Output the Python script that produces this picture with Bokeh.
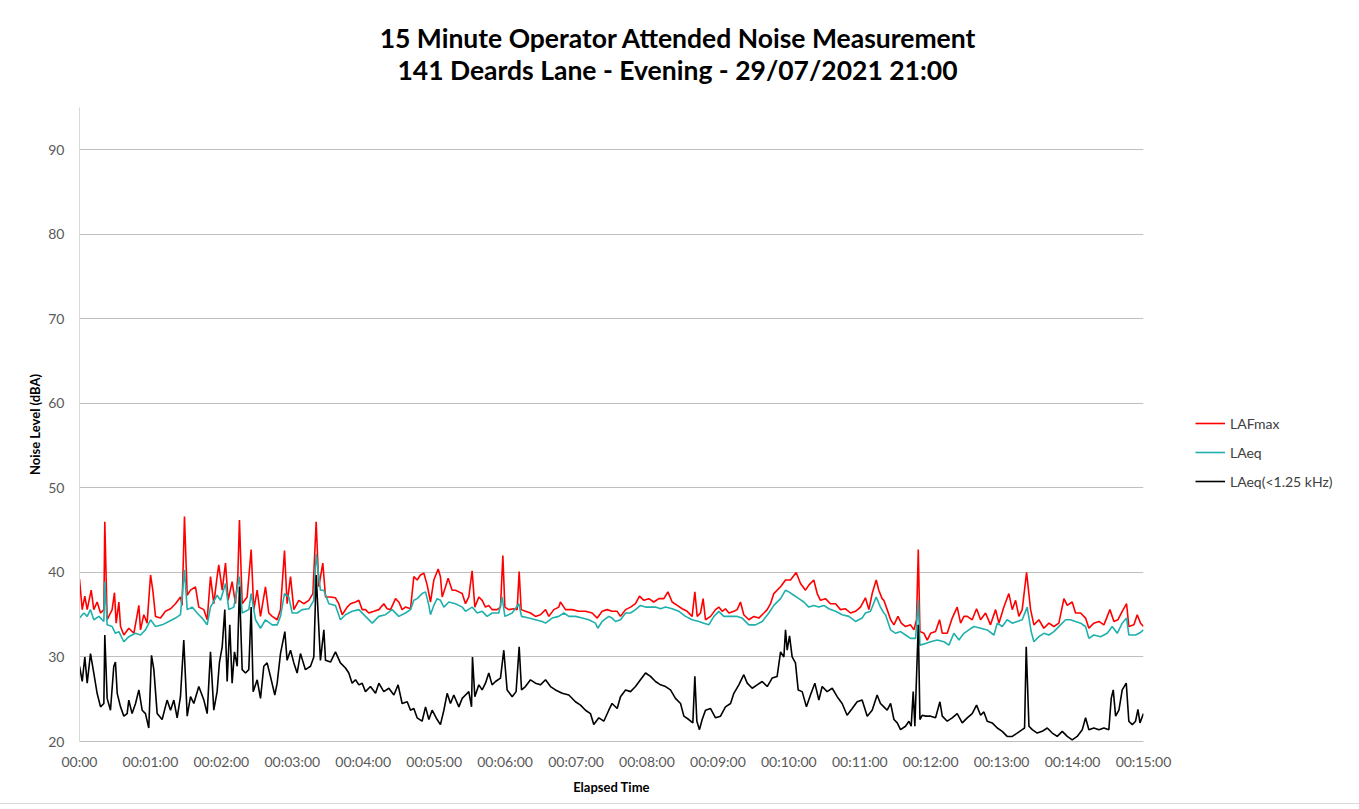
from bokeh.plotting import figure
from bokeh.models import Legend, LegendItem, FixedTicker, Div
from bokeh.layouts import column
from bokeh.embed import file_html
from bokeh.resources import INLINE

# ---- data (elapsed seconds, dBA) ----
lafmax_pts = [(0,39.2),(2.3,35.6),(4.5,37.2),(6.5,35.6),(9.9,37.9),(12.1,35.6),(14.9,36.5),(17.8,35.2),(20.6,35.6),(21.4,46.0),(23.4,34.4),(27.6,35.6),(29.6,37.6),(31.0,34.0),(33.3,36.5),(34.7,33.6),(37.5,32.6),(41.7,33.4),(46.0,32.8),(50.2,36.1),(51.6,33.2),(54.4,35.0),(57.2,34.0),(60.1,39.7),(62.0,37.9),(64.3,34.8),(68.5,34.6),(72.7,35.4),(77.0,35.7),(81.2,36.3),(85.4,37.1),(86.8,36.1),(88.8,46.6),(91.1,37.3),(93.9,37.9),(98.1,38.3),(100.9,35.9),(105.2,35.6),(108.0,34.4),(110.8,39.5),(113.6,36.3),(116.4,39.5),(117.8,40.9),(120.7,37.9),(123.5,41.1),(125.7,36.7),(129.1,38.9),(131.9,36.3),(133.9,39.5),(135.3,46.2),(137.6,36.3),(141.8,37.1),(145.2,42.7),(147.4,35.6),(150.3,37.9),(153.1,34.8),(157.3,38.3),(160.1,35.2),(163.0,34.8),(167.2,34.4),(170.0,35.6),(173.4,42.6),(175.6,36.3),(178.5,39.5),(181.3,35.6),(185.5,36.7),(189.7,36.3),(194.0,36.7),(197.4,37.5),(200.2,46.0),(202.4,38.3),(205.8,41.1),(208.1,37.1),(212.3,37.1),(216.5,37.0),(219.3,36.3),(222.2,35.0),(226.4,35.9),(229.2,36.3),
(233.5,36.5),(236.3,36.7),(239.1,35.6),(241.9,35.6),(244.7,35.2),(249.0,35.4),(253.2,35.6),(257.4,36.3),(260.2,35.7),(263.1,35.6),(267.3,36.9),(270.1,36.5),(272.9,35.6),(275.7,35.9),(280.0,35.7),(282.8,39.5),(285.6,39.1),(288.4,39.7),(291.3,39.9),(294.1,38.5),(296.9,36.5),(299.7,39.1),(303.4,40.4),(305.3,39.5),(306.8,37.1),(309.6,38.3),(311.8,39.3),(315.2,37.9),(318.0,37.9),(320.9,37.7),(323.7,37.5),(326.5,36.3),(329.3,37.1),(332.1,40.2),(334.4,35.9),(337.8,37.1),(340.6,36.7),(343.4,35.9),(346.2,36.1),(349.0,35.6),(353.3,35.6),(356.1,35.9),(358.1,42.0),(359.8,35.9),(363.1,35.6),(367.4,35.7),(370.2,35.6),(371.9,40.1),(373.6,35.6),(377.2,35.4),(381.5,35.2),(385.7,34.8),(389.9,35.0),(394.2,35.6),(397.0,34.8),(401.2,35.6),(405.4,35.9),(406.8,36.5),(411.1,35.6),(416.7,35.6),(422.4,35.4),(428.0,35.4),(433.6,35.2),(437.9,34.6),(442.1,35.4),(446.3,35.6),(450.5,35.4),(454.8,35.4),
(457.6,34.8),(461.9,35.6),(466.1,35.9),(470.3,36.3),(473.7,37.2),(477.4,36.7),(481.6,36.9),(485.8,36.5),(490.1,36.9),(494.3,36.9),(497.7,37.7),(501.3,36.5),(505.6,36.1),(509.8,35.7),(514.0,35.4),(518.2,34.8),(520.5,37.7),(522.5,34.8),(525.3,35.2),(527.5,36.9),(529.5,34.4),(533.8,34.8),(538.0,35.6),(540.8,35.9),(543.6,35.4),(546.4,35.7),(549.3,35.2),(553.5,35.4),(556.3,35.6),(559.1,36.5),(561.9,35.0),(566.2,34.4),(570.4,34.8),(574.6,34.6),(578.9,35.2),(581.7,35.6),(584.5,36.3),(587.3,37.5),(590.1,37.9),(593.0,38.3),(597.2,39.1),(601.4,39.1),(606.2,40.0),(609.9,38.7),(614.1,37.9),(616.9,38.5),(621.1,39.1),(624.0,37.5),(626.8,36.7),(631.0,36.9),(635.2,36.3),(639.5,36.3),(643.7,35.6),(647.9,35.7),(652.2,35.2),(656.4,35.4),(660.6,35.9),(664.8,37.0),(667.7,35.6),(670.5,37.5),(673.9,39.1),(676.1,37.9),(678.9,36.9),
(680.4,36.7),(683.2,35.6),(686.1,34.4),(688.9,33.8),(692.3,34.8),(695.1,34.0),(698.7,33.6),(703.0,33.8),(705.8,33.2),(708.0,34.4),(709.5,42.7),(710.9,33.0),(714.3,32.8),(717.1,32.0),(719.9,32.8),(724.1,33.0),(727.5,34.4),(729.8,32.8),(734.0,32.8),(738.2,34.6),(742.4,35.9),(745.3,34.0),(748.1,34.8),(750.9,34.8),(755.1,34.4),(758.8,35.7),(762.2,34.4),(766.4,35.2),(770.6,33.8),(774.9,35.6),(777.7,34.0),(781.9,35.9),(786.1,37.5),(789.0,35.6),(791.8,36.7),(794.6,34.8),(797.4,35.6),(801.1,40.0),(804.5,35.6),(807.3,33.8),(811.5,34.4),(815.7,33.4),(820.0,34.0),(824.2,33.6),(828.4,34.0),(832.7,36.9),(835.5,36.1),(839.7,36.5),(842.5,35.2),(846.8,35.2),(851.0,34.6),(853.8,33.4),(858.0,34.0),(862.3,34.2),(866.5,33.8),(871.6,35.6),(875.0,34.2),(878.3,34.4),(882.0,35.4),(885.7,36.3),(887.6,33.6),(891.9,33.8),(894.7,35.0),(897.5,34.0),(900.0,33.6)]

laeq_pts = [(0,34.6),(3.7,35.2),(6.5,34.8),(9.3,35.6),(12.1,34.4),(16.4,34.8),(20.6,34.2),(21.4,38.9),(23.4,33.8),(27.6,33.6),(30.4,32.8),(33.3,33.0),(37.5,31.8),(41.7,32.4),(47.4,32.8),(51.6,32.6),(55.8,33.2),(60.1,34.4),(64.3,33.6),(69.9,33.8),(75.6,34.2),(81.2,34.6),(85.4,35.0),(88.8,40.3),(91.1,35.6),(95.3,35.9),(99.5,35.2),(103.7,34.6),(108.0,33.8),(110.8,35.9),(116.4,37.3),(119.3,36.7),(123.5,38.7),(126.3,35.6),(130.5,35.9),(135.3,39.5),(137.6,35.2),(143.2,35.6),(145.2,37.5),(148.9,34.4),(153.1,33.4),(157.3,34.4),(163.0,33.8),(167.2,33.8),(170.0,34.8),(173.4,37.5),(177.0,37.1),(179.9,35.2),(184.1,35.2),(188.3,35.6),(194.0,35.7),(198.2,36.7),(200.2,42.2),(203.8,37.9),(206.7,37.9),(210.9,36.3),(216.5,36.1),(220.7,34.4),(225.0,35.0),
(230.6,35.4),(236.3,35.6),(241.9,34.8),(247.6,34.0),(253.2,34.8),(258.8,35.0),(264.5,35.6),(270.1,34.8),(275.7,35.2),(280.0,35.6),(282.8,36.7),(285.6,36.9),(289.8,37.5),(292.7,37.7),(295.5,36.1),(296.9,35.0),(299.7,36.1),(302.5,36.9),(305.3,36.7),(308.2,35.9),(312.4,36.5),(318.0,36.3),(323.7,35.9),(326.5,35.4),(332.1,35.9),(336.4,35.2),(340.6,35.4),(344.8,34.8),(349.0,35.2),(354.7,35.2),(357.5,37.1),(359.8,34.8),(366.0,35.2),(371.6,36.3),(373.9,34.8),(380.1,34.6),(385.7,34.4),(391.3,34.2),(394.2,34.0),(399.8,34.6),(405.4,34.8),(409.7,35.2),(413.9,34.8),(419.5,34.8),(425.2,34.6),(430.8,34.4),(436.4,34.0),(438.4,33.4),(442.1,34.2),(447.7,34.8),(450.5,34.6),
(453.4,34.2),(457.6,34.4),(461.9,35.2),(466.1,35.2),(470.3,35.6),(474.5,36.1),(478.8,35.9),(483.0,35.9),(487.2,35.9),(491.5,35.7),(495.7,35.9),(501.3,35.7),(507.0,35.4),(512.6,34.8),(518.2,34.4),(523.9,34.2),(528.1,34.0),(532.3,33.8),(536.6,34.8),(540.8,35.4),(545.0,34.8),(550.7,34.8),(556.3,34.8),(560.5,34.6),(566.2,33.8),(571.8,33.8),(577.5,34.2),(583.1,35.2),(587.3,36.1),(593.0,36.9),(597.2,37.9),(600.0,37.7),(604.2,37.3),(608.5,36.9),(612.7,36.5),(616.9,35.9),(621.1,36.1),(625.4,35.9),(629.6,36.1),(633.8,35.7),(639.5,35.4),(645.1,35.0),(650.8,34.8),(656.4,34.2),(662.0,34.6),(664.8,35.2),(669.1,35.4),(673.9,37.1),(677.5,35.9),
(680.4,35.2),(681.8,35.0),(686.1,33.2),(690.3,32.8),(694.5,33.0),(698.7,32.6),(703.0,32.2),(707.2,32.2),(709.5,36.7),(710.9,31.4),(715.7,31.6),(719.9,31.8),(725.5,32.0),(731.2,31.8),(735.4,31.4),(739.6,32.8),(743.9,32.0),(748.1,32.8),(752.3,33.2),(756.5,33.6),(762.2,33.4),(767.8,33.2),(773.5,32.6),(776.3,34.0),(780.5,33.6),(784.7,34.4),(789.0,34.0),(793.2,34.2),(797.4,34.4),(801.6,35.9),(805.0,33.0),(807.3,31.8),(811.5,32.4),(815.7,32.8),(820.0,32.6),(824.2,33.0),(829.8,33.8),(834.1,34.4),(838.3,34.4),(842.5,34.2),(846.8,34.0),(851.0,33.6),(853.8,32.2),(858.0,32.6),(863.7,32.4),(869.3,32.8),(873.5,33.6),(877.8,32.8),(882.0,34.0),(885.7,34.6),(887.6,32.6),(893.3,32.6),(897.5,32.9),(900.0,33.2)]

laeq_low_pts = [(0,28.9),(2.3,27.1),(4.5,30.0),(6.5,26.9),(9.3,30.4),(12.1,28.1),(14.9,25.7),(17.8,24.1),(20.6,24.5),(21.4,32.6),(23.4,25.1),(26.2,23.7),(29.0,28.9),(30.4,29.4),(31.9,25.7),(34.7,24.1),(37.5,23.0),(40.3,23.3),(41.7,24.9),(44.5,23.3),(47.4,24.5),(50.2,26.1),(53.0,23.7),(55.8,23.3),(58.6,21.6),(60.9,30.2),(62.9,28.5),(65.7,23.3),(69.9,22.6),(74.1,24.9),(77.0,23.7),(79.8,24.9),(82.6,22.8),(85.4,25.3),(88.2,32.0),(91.1,23.0),(93.9,25.3),(96.7,24.5),(100.9,26.5),(105.2,24.9),(108.0,23.3),(110.8,30.6),(113.6,23.7),(116.4,25.9),(118.4,29.4),(120.7,31.2),(122.9,35.6),(124.9,27.1),(127.1,33.8),(129.1,26.9),(131.1,30.6),(133.4,28.9),(135.3,38.3),(137.6,28.5),(140.4,28.1),(143.2,28.5),(145.2,35.9),(146.9,25.9),(150.3,27.3),(153.1,25.1),(155.9,28.9),(158.7,29.3),(161.5,27.7),(165.2,25.5),(167.2,26.9),(170.0,30.4),(173.7,33.0),(175.6,29.6),(178.5,30.8),(181.3,29.3),(184.1,28.1),(186.9,30.4),(191.1,28.5),(195.4,28.9),(198.2,30.0),(200.2,39.7),(203.8,29.6),(206.7,33.2),(208.1,29.6),(212.3,29.4),(216.5,30.6),(220.7,29.3),(225.0,28.7),
(227.8,28.1),(230.6,26.9),(233.5,27.3),(236.3,26.7),(239.1,26.9),(241.9,25.9),(246.1,26.5),(250.4,25.7),(253.2,26.9),(257.4,25.9),(261.7,26.3),(265.9,25.5),(269.5,26.7),(272.9,24.5),(277.2,24.7),(280.0,23.7),(282.8,23.9),(285.6,22.8),(289.8,22.4),(292.7,24.1),(295.5,22.6),(298.3,23.7),(302.5,22.6),(305.3,22.0),(308.2,23.7),(311.0,25.7),(313.8,24.5),(316.6,25.5),(320.9,24.1),(323.7,25.1),(326.5,25.5),(329.3,25.9),(331.6,24.1),(332.4,30.0),(334.4,25.3),(337.8,26.7),(340.6,26.1),(343.4,26.9),(346.2,28.1),(349.0,26.7),(351.9,27.1),(356.1,27.5),(358.9,30.8),(361.7,26.1),(366.0,25.3),(369.3,25.9),(371.9,31.2),(373.9,26.1),(377.2,26.5),(381.5,27.3),(385.7,26.9),(389.9,26.7),(394.2,27.3),(398.4,26.5),(402.6,26.1),(408.3,25.7),(413.9,25.5),(419.5,24.7),(423.8,24.3),(428.0,23.7),(432.2,23.3),(435.0,22.0),(439.3,22.8),(443.5,22.4),(447.7,23.7),(450.5,24.5),(454.8,23.9),
(457.6,25.3),(461.9,26.1),(466.1,25.9),(470.3,26.5),(474.5,27.3),(478.8,28.1),(483.0,27.7),(487.2,27.1),(491.5,26.7),(495.7,26.5),(499.9,26.1),(504.1,25.1),(508.4,24.5),(511.2,23.0),(515.4,22.6),(518.8,22.2),(520.5,27.7),(522.2,22.4),(524.4,21.4),(526.7,22.6),(529.5,23.7),(533.8,23.9),(538.0,22.8),(542.2,23.0),(546.4,24.1),(550.7,24.5),(553.5,25.7),(557.7,26.7),(561.9,27.9),(564.8,26.9),(569.0,26.3),(573.2,26.7),(577.5,27.1),(581.7,26.5),(585.9,27.5),(590.1,27.7),(593.0,30.6),(595.8,30.0),(597.2,33.2),(598.6,30.8),(600.6,32.5),(602.8,30.0),(605.6,29.3),(607.9,26.1),(611.3,25.9),(614.9,24.1),(618.3,25.5),(622.0,26.9),(625.4,24.9),(628.2,26.5),(632.4,25.9),(636.7,26.3),(640.9,25.3),(645.1,24.5),(649.3,23.1),(653.6,23.9),(657.8,24.7),(662.0,24.9),(666.3,23.0),(670.5,23.7),(674.7,25.5),(677.5,24.5),
(680.4,24.1),(683.2,23.7),(686.1,24.5),(688.9,22.6),(691.7,22.2),(694.5,21.4),(698.7,21.8),(701.6,22.4),(703.5,21.8),(705.2,25.9),(706.6,21.8),(709.5,33.8),(710.9,22.6),(712.8,23.1),(715.7,23.0),(719.9,23.0),(724.1,22.8),(727.8,24.7),(729.8,23.0),(734.0,22.4),(738.2,22.8),(742.4,23.3),(746.7,22.2),(750.9,22.8),(755.1,23.3),(758.8,24.3),(762.2,23.1),(765.0,23.5),(767.8,22.4),(772.0,22.2),(776.3,21.6),(780.5,21.2),(784.7,20.6),(789.0,20.6),(793.2,21.0),(797.4,21.4),(799.4,21.6),(800.8,31.2),(803.1,21.8),(805.9,21.4),(810.1,21.0),(814.3,21.2),(818.6,21.6),(822.8,21.0),(827.0,20.6),(831.3,21.2),(835.5,20.6),(839.7,20.2),(843.9,20.6),(848.2,21.4),(851.0,22.8),(853.8,21.4),(858.0,21.6),(862.3,21.4),(866.5,21.6),(870.7,21.4),(872.7,25.1),(874.4,26.1),(876.4,23.0),(879.2,23.7),(882.0,26.1),(885.4,26.9),(887.6,22.4),(890.5,22.0),(893.3,22.4),(895.3,23.8),(897.0,22.2),(900.0,23.3)]

tick_seconds = [0, 60, 120, 180, 240, 300, 360, 420, 480, 540, 600, 660, 720, 780, 840, 900]
tick_labels = ["00:00", "00:01:00", "00:02:00", "00:03:00", "00:04:00", "00:05:00",
               "00:06:00", "00:07:00", "00:08:00", "00:09:00", "00:10:00", "00:11:00",
               "00:12:00", "00:13:00", "00:14:00", "00:15:00"]
y_ticks = [20, 30, 40, 50, 60, 70, 80, 90]
series_names = ["LAFmax", "LAeq", "LAeq(<1.25 kHz)"]
series_colors = ["#ff0000", "#1fb0ac", "#000000"]
title_lines = ["15 Minute Operator Attended Noise Measurement",
               "141 Deards Lane - Evening - 29/07/2021 21:00"]

FONT = "Lato"
TOTAL_W = 1355

title_div = Div(text="<br>".join(title_lines), width=TOTAL_W, height=90, margin=0,
                styles={"text-align": "center", "font-family": FONT, "font-weight": "bold",
                        "font-size": "26.5px", "line-height": "32px", "padding-top": "22px",
                        "color": "#000000", "box-sizing": "border-box"})

p = figure(frame_width=1064, frame_height=634,
           min_border_left=79, min_border_right=TOTAL_W - 79 - 1064,
           min_border_top=17, min_border_bottom=62,
           x_range=(0, 900), y_range=(20, 95),
           output_backend="svg", toolbar_location=None, margin=0)
p.outline_line_color = None
p.background_fill_color = "white"
p.border_fill_color = "white"

renderers = []
for pts, color in zip([lafmax_pts, laeq_pts, laeq_low_pts], series_colors):
    xs = [a for a, b in pts]
    ys = [b for a, b in pts]
    r = p.line(xs, ys, line_color=color, line_width=1.6)
    renderers.append(r)

# axes
p.xaxis.ticker = FixedTicker(ticks=tick_seconds)
p.xaxis.major_label_overrides = {t: l for t, l in zip(tick_seconds, tick_labels)}
p.yaxis.ticker = FixedTicker(ticks=y_ticks)
for ax in (p.xaxis, p.yaxis):
    ax.major_tick_line_color = None
    ax.minor_tick_line_color = None
    ax.major_label_text_font = FONT
    ax.major_label_text_font_size = "14px"
    ax.major_label_text_color = "#595959"
    ax.axis_label_text_font = FONT
    ax.axis_label_text_font_size = "13px"
    ax.axis_label_text_font_style = "bold"
    ax.axis_label_text_color = "#000000"
p.yaxis.axis_line_color = "#d9d9d9"
p.xaxis.axis_line_color = "#bfbfbf"
p.yaxis.major_label_standoff = 9
p.xaxis.major_label_standoff = 5
p.yaxis.axis_label = "Noise Level (dBA)"
p.xaxis.axis_label = "Elapsed Time"
p.yaxis.axis_label_standoff = 2
p.xaxis.axis_label_standoff = 6

p.xgrid.grid_line_color = None
p.ygrid.ticker = FixedTicker(ticks=y_ticks)
p.ygrid.grid_line_color = "#bfbfbf"
p.ygrid.grid_line_width = 1

legend = Legend(items=[LegendItem(label=n, renderers=[r]) for n, r in zip(series_names, renderers)],
                location=(52, 250), margin=0, glyph_width=30, glyph_height=20, label_height=20,
                spacing=9, padding=10, label_standoff=5, border_line_color=None,
                background_fill_alpha=0, label_text_font=FONT, label_text_font_size="14px",
                label_text_color="#404040")
p.add_layout(legend, "right")

layout = column(title_div, p, spacing=0, margin=0,
                styles={"outline": "1px solid #d9d9d9"})

open("out.html", "w").write(file_html(layout, INLINE))
